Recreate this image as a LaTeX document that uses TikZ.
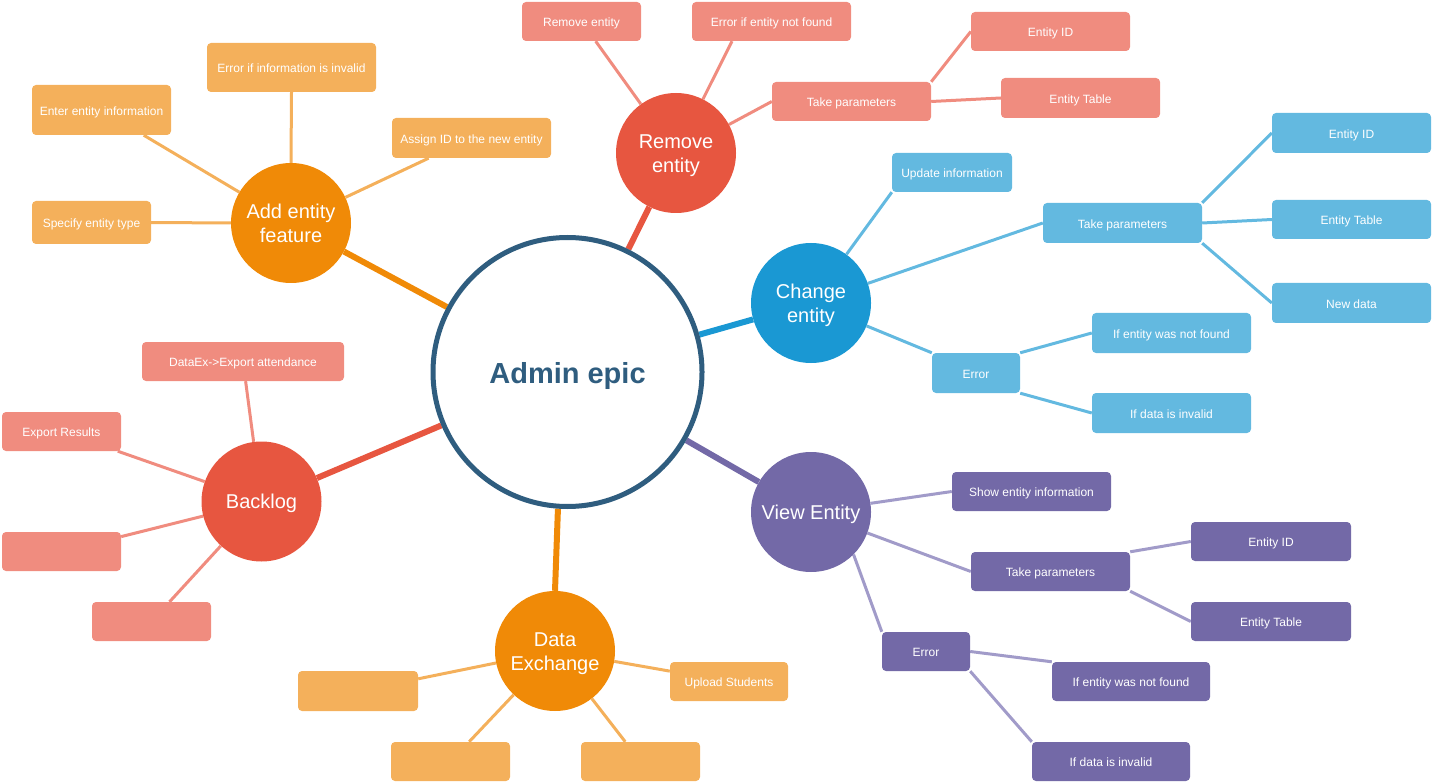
\documentclass[tikz,border=0pt]{standalone}
\usepackage{fontspec}
\setmainfont{Liberation Sans}
\usetikzlibrary{backgrounds}
\definecolor{mainblue}{HTML}{2F5D7F}
\definecolor{dorange}{HTML}{F08A07}
\definecolor{lorange}{HTML}{F4B05B}
\definecolor{dred}{HTML}{E75640}
\definecolor{lred}{HTML}{F08C7F}
\definecolor{dblue}{HTML}{1A98D3}
\definecolor{lblue}{HTML}{63B9E0}
\definecolor{dpurple}{HTML}{7369A7}
\definecolor{lpurple}{HTML}{A19BC9}
\tikzset{
  box/.style={rounded corners=4pt, inner sep=2pt, text=white,
    font=\fontsize{12}{14}\selectfont, text height=10.5pt, text depth=0pt},
  obox/.style={box, fill=lorange},
  rbox/.style={box, fill=lred},
  bbox/.style={box, fill=lblue},
  pbox/.style={box, fill=dpurple},
  wh/.style 2 args={minimum width=#1pt, minimum height=#2pt},
  hub/.style={circle, minimum size=120pt, inner sep=0pt, text=white,
    font=\fontsize{20}{24}\selectfont, align=center, text height=14.5pt, text depth=0pt},
  twohub/.style={hub, text height=38.5pt, text depth=0pt},
  mainhub/.style={circle, minimum size=269pt, inner sep=0pt, draw=mainblue,
    line width=5pt, fill=white, text=mainblue, text height=23pt, text depth=0pt,
    font=\fontsize{29}{34}\selectfont\bfseries},
  leafline/.style={line width=3pt},
  hubline/.style={line width=6pt}
}
\begin{document}
\begin{tikzpicture}[x=1pt, y=-1pt]
\useasboundingbox (0,0) rectangle (1434,783);
% center
\node[mainhub] (M) at (567.5,372) {Admin epic};
% hubs
\node[twohub, fill=dorange] (A) at (291,223) {Add entity\\feature};
\node[twohub, fill=dred] (R) at (676,153) {Remove\\entity};
\node[twohub, fill=dblue] (C) at (811,303) {Change\\entity};
\node[hub, fill=dpurple] (V) at (811,512) {View Entity};
\node[hub, fill=dred] (B) at (261.5,501.5) {Backlog};
\node[twohub, fill=dorange] (D) at (555,651) {Data\\Exchange};
% add entity feature
\node[obox, wh={139}{50}] (ae1) at (101.5,110) {Enter entity information};
\node[obox, wh={169}{49}] (ae2) at (291.5,67.5) {Error if information is invalid};
\node[obox, wh={159}{40}] (ae3) at (471.5,138) {Assign ID to the new entity};
\node[obox, wh={119}{43}] (ae4) at (91.5,222.5) {Specify entity type};
% remove entity
\node[rbox, wh={119}{39}] (re1) at (581.5,21.5) {Remove entity};
\node[rbox, wh={159}{39}] (re2) at (771.5,21.5) {Error if entity not found};
\node[rbox, wh={159}{39}] (rtp) at (851.5,101.5) {Take parameters};
\node[rbox, wh={159}{39}] (rid) at (1050.5,31.5) {Entity ID};
\node[rbox, wh={159}{40}] (rtb) at (1080.5,98) {Entity Table};
% change entity
\node[bbox, wh={120}{39}] (cu) at (952,172.5) {Update information};
\node[bbox, wh={159}{40}] (ctp) at (1122.5,223) {Take parameters};
\node[bbox, wh={159}{40}] (cid) at (1351.5,133) {Entity ID};
\node[bbox, wh={159}{39}] (ctb) at (1351.5,219.5) {Entity Table};
\node[bbox, wh={159}{40}] (cnd) at (1351.5,303) {New data};
\node[bbox, wh={88}{40}] (ce) at (976,373) {Error};
\node[bbox, wh={159}{40}] (cnf) at (1171.5,333) {If entity was not found};
\node[bbox, wh={159}{40}] (cdi) at (1171.5,413) {If data is invalid};
% view entity
\node[pbox, wh={159}{39}] (vs) at (1031.5,491.5) {Show entity information};
\node[pbox, wh={159}{39}] (vtp) at (1050.5,571.5) {Take parameters};
\node[pbox, wh={160}{39}] (vid) at (1271,541.5) {Entity ID};
\node[pbox, wh={160}{39}] (vtb) at (1271,621.5) {Entity Table};
\node[pbox, wh={88}{39}] (ver) at (926,651.5) {Error};
\node[pbox, wh={158}{39}] (vnf) at (1131,681.5) {If entity was not found};
\node[pbox, wh={158}{39}] (vdi) at (1111,761.5) {If data is invalid};
% backlog
\node[rbox, wh={202}{39}] (b1) at (243,361.5) {DataEx->Export attendance};
\node[rbox, wh={119}{39}] (b2) at (61.5,431.5) {Export Results};
\node[rbox, wh={119}{39}] (b3) at (61.5,551.5) {};
\node[rbox, wh={119}{39}] (b4) at (151.5,621.5) {};
% data exchange
\node[obox, wh={120}{40}] (d1) at (358,691) {};
\node[obox, wh={119}{39}] (d2) at (450.5,761.5) {};
\node[obox, wh={119}{39}] (d3) at (640.5,761.5) {};
\node[obox, wh={118}{39}] (d4) at (729,681.5) {Upload Students};

\begin{scope}[on background layer]
% hub lines
\draw[hubline, dorange] (M) -- (A);
\draw[hubline, dred] (M) -- (R);
\draw[hubline, dblue] (M) -- (C);
\draw[hubline, dpurple] (M) -- (V);
\draw[hubline, dred] (M) -- (B);
\draw[hubline, dorange] (M.-94) -- (D.north);
% add entity
\draw[leafline, lorange] (ae1) -- (A);
\draw[leafline, lorange] (ae2.south) -- (A.north);
\draw[leafline, lorange] (ae3) -- (A);
\draw[leafline, lorange] (ae4) -- (A);
% remove
\draw[leafline, lred] (re1) -- (R);
\draw[leafline, lred] ([xshift=-39.5pt]re2.south) -- (R);
\draw[leafline, lred] (rtp.west) -- (R);
\draw[leafline, lred] (rtp.north east) -- (rid.west);
\draw[leafline, lred] (rtp.east) -- (rtb.west);
% change
\draw[leafline, lblue] (cu.south west) -- (C);
\draw[leafline, lblue] (ctp.west) -- (C);
\draw[leafline, lblue] (ctp.north east) -- (cid.west);
\draw[leafline, lblue] (ctp.east) -- (ctb.west);
\draw[leafline, lblue] (ctp.south east) -- (cnd.west);
\draw[leafline, lblue] (ce.north west) -- (C);
\draw[leafline, lblue] (ce.north east) -- (cnf.west);
\draw[leafline, lblue] (ce.south east) -- (cdi.west);
% view
\draw[leafline, lpurple] (vs.west) -- (V);
\draw[leafline, lpurple] (vtp.west) -- (V);
\draw[leafline, lpurple] (vtp.north east) -- (vid.west);
\draw[leafline, lpurple] (vtp.south east) -- (vtb.west);
\draw[leafline, lpurple] (V.-45) -- (ver.north west);
\draw[leafline, lpurple] (ver.east) -- (vnf.north west);
\draw[leafline, lpurple] (ver.south east) -- (vdi.north west);
% backlog
\draw[leafline, lred] (b1) -- (B);
\draw[leafline, lred] (b2) -- (B);
\draw[leafline, lred] (b3) -- (B);
\draw[leafline, lred] (b4) -- (B);
% data exchange
\draw[leafline, lorange] (d1) -- (D);
\draw[leafline, lorange] (d2) -- (D);
\draw[leafline, lorange] (d3) -- (D);
\draw[leafline, lorange] (d4) -- (D);
\end{scope}
\end{tikzpicture}
\end{document}
